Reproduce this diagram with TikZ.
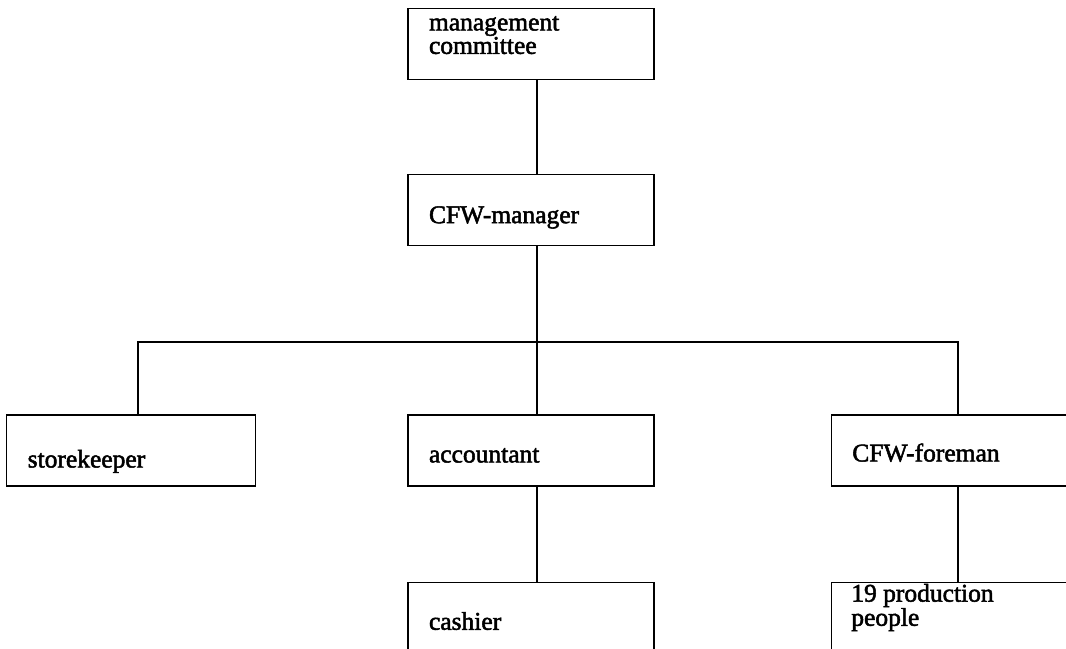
\documentclass[tikz,border=0pt]{standalone}
\usepackage{fontspec}
\setmainfont{Liberation Serif}
\newfontfamily\scanfont{Liberation Serif}[FakeBold=2]
\usetikzlibrary{positioning, calc}

\begin{document}
\begin{tikzpicture}[
            x = 1bp, y = -1bp, % pixel units, y runs downwards
            line width = 1.3bp, % line style
            node distance = 94bp, % distance between boxes
            box/.style = {
                draw = black,
                rectangle,
                minimum width = 246bp,
                minimum height = 71bp,
                inner sep = 0pt
            },
            boxtext/.style = {
                anchor = base west, % base of the last line
                inner sep = 0pt,
                align = left,
                font = \scanfont\fontsize{25.5bp}{21.5bp}\selectfont
            }
        ]

        \clip (0,0) rectangle (1066,649);

        % boxes
        \node[box] (mgmt) at (531,44) {};
        \node[box] (mgr) [below=of mgmt] {};
        \node[box] (acct) [below=168bp of mgr] {};
        \node[box, minimum width=249bp] (store) [left=151bp of acct] {};
        \node[box] (foreman) [right=176bp of acct] {};
        \node[box, minimum height=100bp] (cashier) [below=95bp of acct] {};
        \node[box, minimum height=100bp] (people) [below=95bp of foreman] {};

        % texts
        \node[boxtext] (mgmt-t) at ($(mgmt.north west)+(21,46)$) {management\\committee};
        \node[boxtext] (mgr-t) at ($(mgr.north west)+(21,49)$) {CFW-manager};
        \node[boxtext] (store-t) at ($(store.north west)+(21,53)$) {storekeeper};
        \node[boxtext] (acct-t) at ($(acct.north west)+(21,48)$) {accountant};
        \node[boxtext] (foreman-t) at ($(foreman.north west)+(21,47)$) {CFW-foreman};
        \node[boxtext] (cashier-t) at ($(cashier.north west)+(21,48)$) {cashier};
        \node[boxtext] (people-t) at ($(people.north west)+(20,44)$) {19 production\\people};

        % lines
        \coordinate (bus) at (537,342);
        \coordinate (storedrop) at (138,342);
        \coordinate (foredrop) at (958,342);

        \draw (mgmt.south -| bus) -- (mgr.north -| bus);
        \draw (mgr.south -| bus) -- (acct.north -| bus);
        \draw (storedrop |- store.north) -- (storedrop) -- (foredrop) -- (foredrop |- foreman.north);
        \draw (acct.south -| bus) -- (cashier.north -| bus);
        \draw (foreman.south -| foredrop) -- (people.north -| foredrop);

    \end{tikzpicture}
\end{document}
